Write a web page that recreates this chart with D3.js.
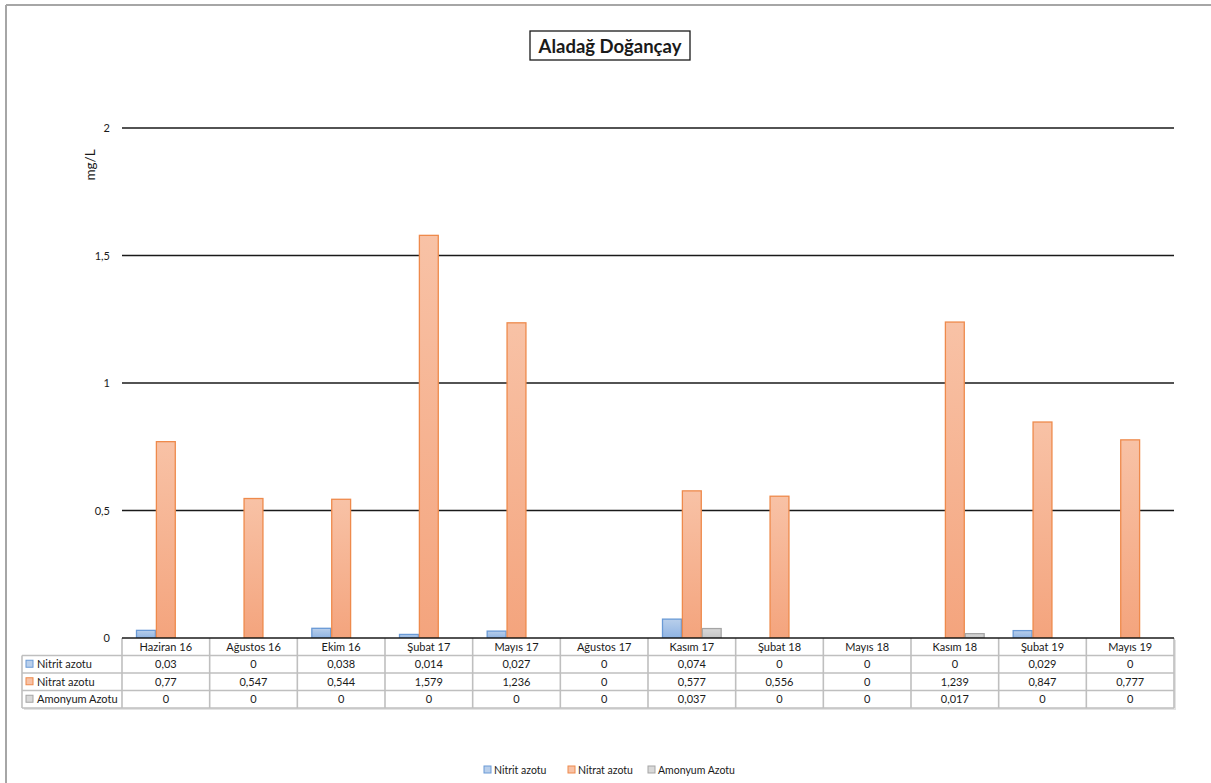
<html>
<head>
<meta charset="utf-8">
<script src="https://d3js.org/d3.v7.min.js"></script>
<style>
  body { margin: 0; background: #fff; }
  text { font-family: Lato, "Open Sans", sans-serif; fill: #1a1a1a; }
</style>
</head>
<body>
<svg width="1211" height="783"></svg>
<script>
  // months on the x axis
  const categories = ['Haziran 16', 'Ağustos 16', 'Ekim 16', 'Şubat 17', 'Mayıs 17', 'Ağustos 17',
                      'Kasım 17', 'Şubat 18', 'Mayıs 18', 'Kasım 18', 'Şubat 19', 'Mayıs 19'];
  const seriesNames = ['Nitrit azotu', 'Nitrat azotu', 'Amonyum Azotu'];
  const nitrit = [0.03, 0, 0.038, 0.014, 0.027, 0, 0.074, 0, 0, 0, 0.029, 0];
  const nitrat = [0.77, 0.547, 0.544, 1.579, 1.236, 0, 0.577, 0.556, 0, 1.239, 0.847, 0.777];
  const amonyum = [0, 0, 0, 0, 0, 0, 0.037, 0, 0, 0.017, 0, 0];
  const yTicks = [0, 0.5, 1, 1.5, 2];

  const values = [nitrit, nitrat, amonyum];
  const colors = [
    { top: '#b9cfeb', bottom: '#8fb4e3', stroke: '#6a9ad6' },
    { top: '#f8c2a6', bottom: '#f4a47d', stroke: '#ee8a4c' },
    { top: '#d9d9d9', bottom: '#c6c6c6', stroke: '#a5a5a5' }
  ];
  const fmt = v => String(v).replace('.', ',');

  const svg = d3.select('svg');
  const defs = svg.append('defs');
  colors.forEach((c, i) => {
    const g = defs.append('linearGradient').attr('id', 'grad' + i)
      .attr('x1', 0).attr('y1', 0).attr('x2', 0).attr('y2', 1);
    g.append('stop').attr('offset', '0%').attr('stop-color', c.top);
    g.append('stop').attr('offset', '100%').attr('stop-color', c.bottom);
  });

  // chart area border (only left/top visible)
  svg.append('line').attr('x1', 6).attr('x2', 6).attr('y1', 5).attr('y2', 783)
    .attr('stroke', '#a6a6a6').attr('stroke-width', 2);
  svg.append('line').attr('x1', 6).attr('x2', 1211).attr('y1', 5).attr('y2', 5)
    .attr('stroke', '#a6a6a6').attr('stroke-width', 2);

  const pL = 122, pR = 1174, pT = 128, pB = 638, tblBottom = 708, labelL = 22;

  const x = d3.scaleBand().domain(categories).range([pL, pR]);
  const x1 = d3.scaleBand().domain(seriesNames).range([14, x.bandwidth() - 14]);
  const y = d3.scaleLinear().domain([0, 2]).range([pB, pT]);

  // gridlines
  svg.append('g').selectAll('line').data(yTicks.filter(d => d > 0)).join('line')
    .attr('x1', pL).attr('x2', pR)
    .attr('y1', d => y(d)).attr('y2', d => y(d))
    .attr('stroke', '#1a1a1a').attr('stroke-width', 1.3);

  // y axis labels
  svg.append('g').selectAll('text').data(yTicks).join('text')
    .attr('x', 110).attr('y', d => y(d) + 4)
    .attr('text-anchor', 'end').attr('font-size', 11)
    .text(d => fmt(d));

  svg.append('text').attr('transform', 'translate(95,165) rotate(-90)')
    .attr('text-anchor', 'middle').attr('font-size', 13.5).text('mg/L');

  // bars
  seriesNames.forEach((s, si) => {
    const pts = categories.map((c, i) => ({ c: c, v: values[si][i] })).filter(d => d.v > 0);
    svg.append('g').selectAll('rect').data(pts).join('rect')
      .attr('x', d => x(d.c) + x1(s) + 0.5)
      .attr('width', x1.bandwidth() - 1)
      .attr('y', d => y(d.v))
      .attr('height', d => pB - y(d.v))
      .attr('fill', 'url(#grad' + si + ')')
      .attr('stroke', colors[si].stroke).attr('stroke-width', 1.3);
  });

  // data table
  const rows = ['hdr'].concat(seriesNames);
  const ry = d3.scaleBand().domain(rows).range([pB, tblBottom]);
  const tbl = svg.append('g');
  const gridC = '#bfbfbf';
  const r1 = ry(seriesNames[0]);
  // shadow
  tbl.append('rect').attr('x', labelL + 2).attr('y', r1 + 2)
    .attr('width', pR - labelL).attr('height', tblBottom - r1).attr('fill', '#e3e3e3');
  tbl.append('rect').attr('x', pL + 2).attr('y', pB + 2)
    .attr('width', pR - pL).attr('height', tblBottom - pB).attr('fill', '#e3e3e3');
  tbl.append('rect').attr('x', pL).attr('y', pB)
    .attr('width', pR - pL).attr('height', tblBottom - pB).attr('fill', '#fff');
  tbl.append('rect').attr('x', labelL).attr('y', r1)
    .attr('width', pR - labelL).attr('height', tblBottom - r1).attr('fill', '#fff');

  // horizontal lines
  tbl.append('g').selectAll('line').data(seriesNames.map(s => ry(s)).concat([tblBottom])).join('line')
    .attr('x1', labelL).attr('x2', pR)
    .attr('y1', d => d).attr('y2', d => d)
    .attr('stroke', gridC).attr('stroke-width', 1.6);
  // vertical lines
  tbl.append('g').selectAll('line').data(categories.map(c => x(c)).concat([pR])).join('line')
    .attr('x1', d => d).attr('x2', d => d)
    .attr('y1', pB).attr('y2', tblBottom)
    .attr('stroke', gridC).attr('stroke-width', 1.6);
  tbl.append('line').attr('x1', labelL).attr('x2', labelL).attr('y1', r1).attr('y2', tblBottom)
    .attr('stroke', gridC).attr('stroke-width', 1.6);

  // axis line
  svg.append('line').attr('x1', pL).attr('x2', pR).attr('y1', pB).attr('y2', pB)
    .attr('stroke', '#1a1a1a').attr('stroke-width', 1.5);

  // header labels
  tbl.append('g').selectAll('text').data(categories).join('text')
    .attr('x', d => x(d) + x.bandwidth() / 2).attr('y', ry('hdr') + ry.bandwidth() / 2 + 4)
    .attr('text-anchor', 'middle').attr('font-size', 11).text(d => d);

  // row labels and keys
  seriesNames.forEach((s, si) => {
    const cy = ry(s) + ry.bandwidth() / 2;
    tbl.append('rect').attr('x', 26).attr('y', cy - 4).attr('width', 7).attr('height', 7)
      .attr('fill', colors[si].top).attr('stroke', colors[si].stroke);
    tbl.append('text').attr('x', 37).attr('y', cy + 4).attr('font-size', 11).text(s);
    tbl.append('g').selectAll('text').data(categories).join('text')
      .attr('x', d => x(d) + x.bandwidth() / 2).attr('y', cy + 4)
      .attr('text-anchor', 'middle').attr('font-size', 11)
      .text((d, i) => fmt(values[si][i]));
  });

  // title
  const title = svg.append('g');
  title.append('rect').attr('x', 530).attr('y', 31).attr('width', 160).attr('height', 29)
    .attr('fill', '#fff').attr('stroke', '#1a1a1a').attr('stroke-width', 1.3);
  title.append('text').attr('x', 610).attr('y', 52.5).attr('text-anchor', 'middle')
    .attr('font-size', 18.5).attr('font-weight', 'bold').text('Aladağ  Doğançay');

  // legend
  const legX = [484, 568, 648];
  const leg = svg.append('g');
  seriesNames.forEach((s, si) => {
    leg.append('rect').attr('x', legX[si]).attr('y', 766).attr('width', 7).attr('height', 7)
      .attr('fill', colors[si].top).attr('stroke', colors[si].stroke);
    leg.append('text').attr('x', legX[si] + 10).attr('y', 773.5).attr('font-size', 10.5).text(s);
  });
</script>
</body>
</html>
